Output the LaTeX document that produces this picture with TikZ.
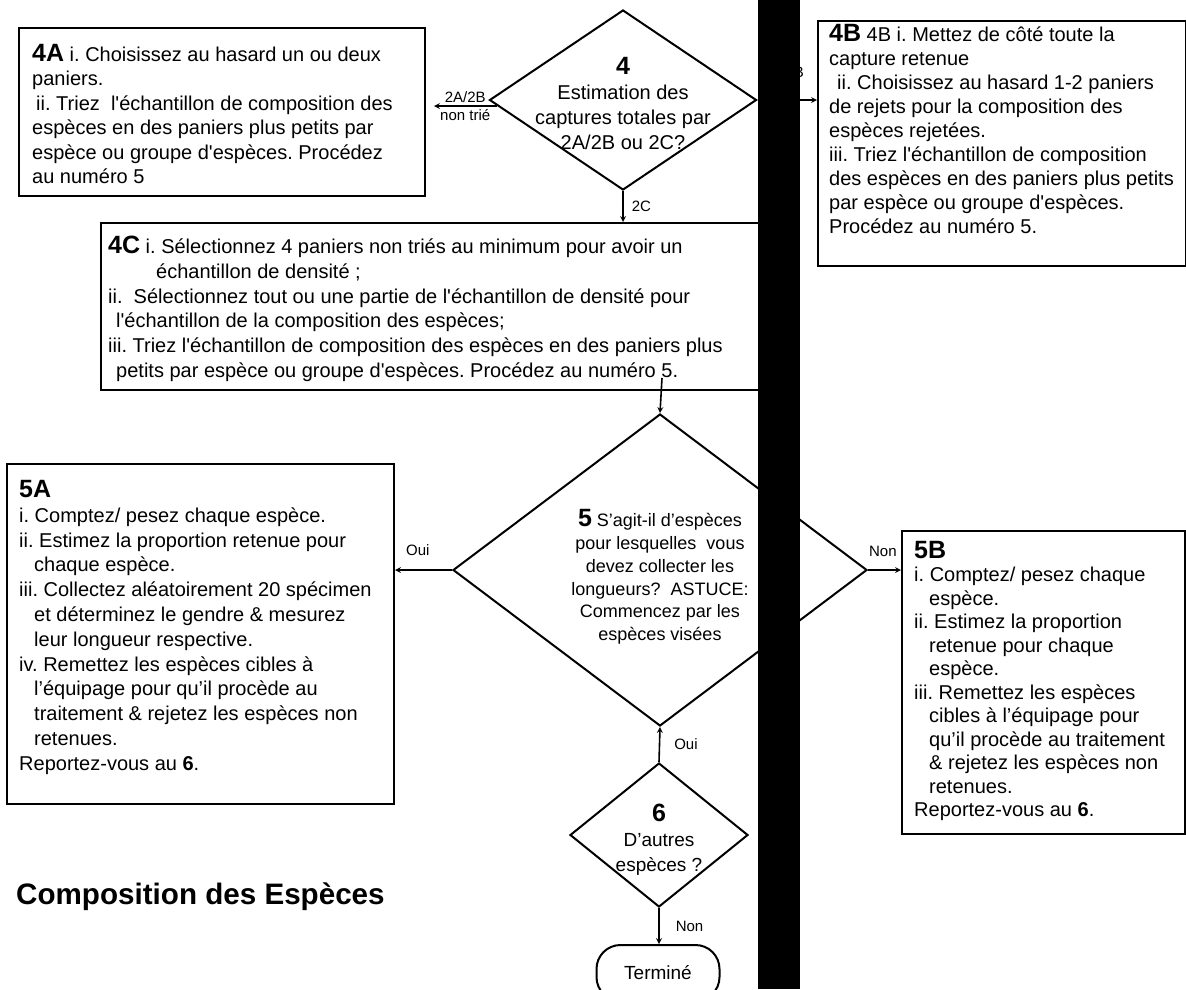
\documentclass[tikz,border=0pt]{standalone}
\usepackage{fontspec}
\setmainfont{Liberation Sans}
\usetikzlibrary{shapes.geometric}
\newcommand{\hd}[1]{{\fontsize{25}{25}\selectfont\bfseries #1}}
\newcommand{\sq}{\textquotesingle}
\frenchspacing
\tikzset{
 box/.style={draw, line width=2pt, inner sep=0pt, anchor=north west},
 dia/.style={draw, diamond, line width=2pt, inner sep=0pt},
 txt/.style={inner sep=0pt, align=left, anchor=north west, font=\fontsize{20}{24.4}\selectfont},
 lab/.style={inner sep=0pt, font=\fontsize{15}{18}\selectfont},
 link/.style={->, line width=1.6pt}
}
\begin{document}
\begin{tikzpicture}[x=1pt, y=-1pt, >=stealth]
 \useasboundingbox (0,0) rectangle (1186,989);
 \node[box, minimum width=406, minimum height=168](a4) at (18,27) {};
 \node[txt](a4t) at (32,44) {\hd{4A} i. Choisissez au hasard un ou deux\\paniers.\\\hspace*{4pt}ii. Triez\ \ l\sq échantillon de composition des\\espèces en des paniers plus petits par\\espèce ou groupe d\sq espèces. Procédez\\au numéro 5};
 \node[dia, minimum width=267, minimum height=180](d4) at (623,100) {};
 \node[inner sep=0pt, align=center, font=\fontsize{20}{25}\selectfont](d4t) at (623,103) {\hd{4}\\Estimation des\\captures totales par\\2A/2B ou 2C?};
 \node[box, minimum width=368, minimum height=245](b4) at (817,20) {};
 \node[txt, font=\fontsize{20}{24}\selectfont](b4t) at (829,24) {\hd{4B} 4B i. Mettez de côté toute la\\capture retenue\\\hspace*{8pt}ii. Choisissez au hasard 1-2 paniers\\de rejets pour la composition des\\espèces rejetées.\\iii. Triez l\sq échantillon de composition\\des espèces en des paniers plus petits\\par espèce ou groupe d\sq espèces.\\Procédez au numéro 5.};
 \node[box, minimum width=690, minimum height=167](c4) at (100,222) {};
 \node[txt, font=\fontsize{20}{24.7}\selectfont](c4t) at (108,236) {\hd{4C} i. Sélectionnez 4 paniers non triés au minimum pour avoir un\\\hspace*{48pt}échantillon de densité ;\\ii.\ \ Sélectionnez tout ou une partie de l\sq échantillon de densité pour\\\hspace*{8pt}l\sq échantillon de la composition des espèces;\\iii. Triez l\sq échantillon de composition des espèces en des paniers plus\\\hspace*{8pt}petits par espèce ou groupe d\sq espèces. Procédez au numéro 5.};
 \coordinate (c4out) at (662,378);
 \node[dia, minimum width=414, minimum height=312](d5) at (660,570) {};
 \node[inner sep=0pt, align=center, font=\fontsize{18}{22.8}\selectfont](d5t) at (660,577) {\hd{5} S’agit-il d’espèces\\pour lesquelles\ \ vous\\devez collecter les\\longueurs?\ \ ASTUCE:\\Commencez par les\\espèces visées};
 \node[box, minimum width=387, minimum height=340](a5) at (6,463) {};
 \node[txt, font=\fontsize{20}{24.8}\selectfont](a5t) at (19,480) {\hd{5A}\\i. Comptez/ pesez chaque espèce.\\ii. Estimez la proportion retenue pour\\\hspace*{15pt}chaque espèce.\\iii. Collectez aléatoirement 20 spécimen\\\hspace*{15pt}et déterminez le gendre \& mesurez\\\hspace*{15pt}leur longueur respective.\\iv. Remettez les espèces cibles à\\\hspace*{15pt}l’équipage pour qu’il procède au\\\hspace*{15pt}traitement \& rejetez les espèces non\\\hspace*{15pt}retenues.\\Reportez-vous au \textbf{6}.};
 \node[box, minimum width=283, minimum height=303](b5) at (901,530) {};
 \node[txt, font=\fontsize{20}{23.5}\selectfont](b5t) at (914,541) {\hd{5B}\\i. Comptez/ pesez chaque\\\hspace*{15pt}espèce.\\ii. Estimez la proportion\\\hspace*{15pt}retenue pour chaque\\\hspace*{15pt}espèce.\\iii. Remettez les espèces\\\hspace*{15pt}cibles à l’équipage pour\\\hspace*{15pt}qu’il procède au traitement\\\hspace*{15pt}\& rejetez les espèces non\\\hspace*{15pt}retenues.\\Reportez-vous au \textbf{6}.};
 \node[dia, minimum width=178, minimum height=144](d6) at (659,835) {};
 \node[inner sep=0pt, align=center, font=\fontsize{19}{25}\selectfont](d6t) at (659,840) {\hd{6}\\D’autres\\espèces ?};
 \node[draw, line width=2pt, rounded corners=24pt, minimum width=123, minimum height=56, font=\fontsize{19}{19}\selectfont](fin) at (658,973) {Terminé};
 \node[anchor=west, inner sep=0pt, font=\fontsize{29.6}{30}\selectfont\bfseries](title) at (16,897) {Composition des Espèces};
 \draw[link]([shift={(8,6)}]d4.west)--([shift={(8,6)}]d4.west -| a4.east) node[lab, midway, above=3pt]{2A/2B} node[lab, midway, below=3pt]{non trié};
 \draw[link](d4.east)--(d4.east -| b4.west);
 \node[lab, anchor=east](l2b) at (804,72) {2B};
 \draw[link](d4.south)--(d4.south |- c4.north) node[lab, midway, right=8pt]{2C};
 \draw[link](c4out)--(d5.north);
 \draw[link](d5.west)--(d5.west -| a5.east) node[lab, pos=0.6, above=14pt]{Oui};
 \draw[link](d5.east)--(d5.east -| b5.west) node[lab, pos=0.45, above=13pt]{Non};
 \draw[link](d6.north)--(d5.south) node[lab, midway, right=14pt]{Oui};
 \draw[link](d6.south)--(d6.south |- fin.north) node[lab, midway, right=16pt]{Non};
 \fill (758,0) rectangle (800,989);
\end{tikzpicture}
\end{document}
